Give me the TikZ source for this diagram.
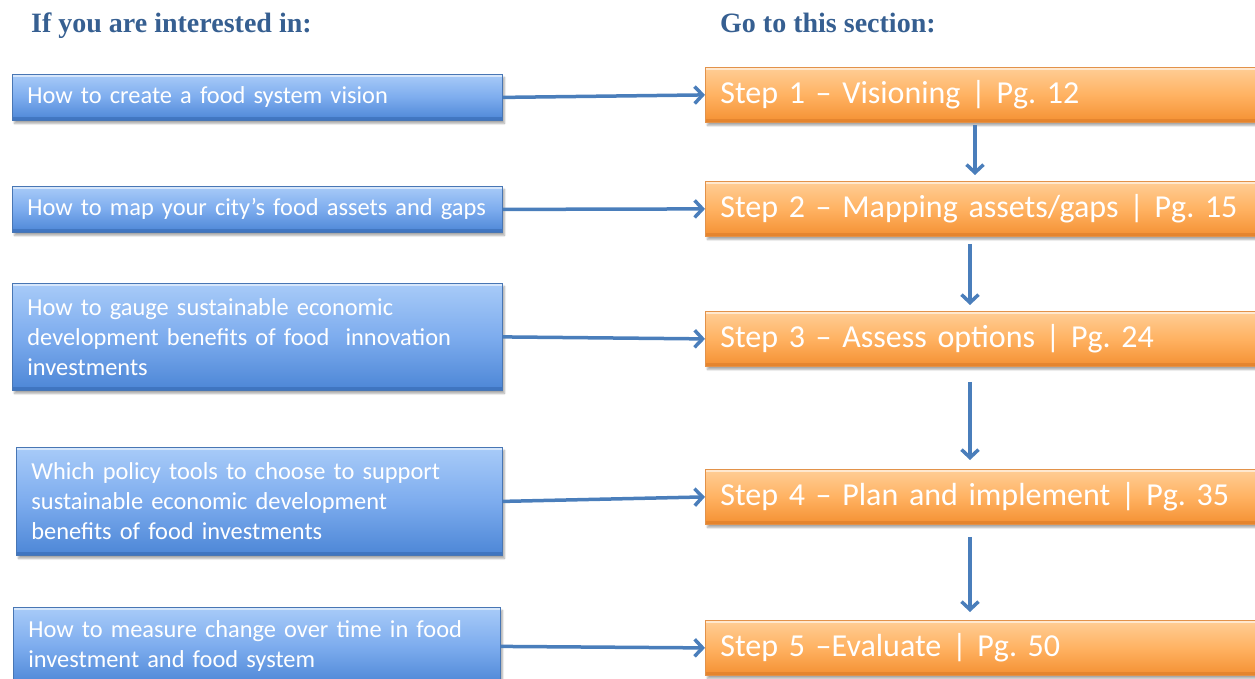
\documentclass[tikz,border=0pt]{standalone}
\usepackage{fontspec}
\setmainfont{Carlito}
\newfontfamily\hdrfont{Liberation Serif}
\usetikzlibrary{arrows.meta,shadows.blur}
\definecolor{hdr}{RGB}{54,95,145}
\definecolor{bluetop}{RGB}{168,203,248}
\definecolor{bluemid}{RGB}{125,172,238}
\definecolor{bluebot}{RGB}{76,134,214}
\definecolor{blueedge}{RGB}{72,118,180}
\definecolor{bluedark}{RGB}{50,100,170}
\definecolor{orgtop}{RGB}{255,206,150}
\definecolor{orgmid}{RGB}{255,178,98}
\definecolor{orgbot}{RGB}{244,144,50}
\definecolor{orgedge}{RGB}{226,146,74}
\definecolor{orgdark}{RGB}{214,120,40}
\definecolor{arrowblue}{RGB}{74,126,187}
\frenchspacing
\begin{document}
\begin{tikzpicture}[x=1pt,y=-1pt,
  hdrtext/.style={font=\hdrfont\bfseries\fontsize{28}{32}\selectfont, text=hdr, anchor=base west, inner sep=0pt},
  bevel/.style={path picture={
      \draw[white, opacity=0.55, line width=3pt]
        ([yshift=-1.5pt]path picture bounding box.north west) -- ([yshift=-1.5pt]path picture bounding box.north east);
      \draw[#1, opacity=0.5, line width=3pt]
        ([yshift=1.5pt]path picture bounding box.south west) -- ([yshift=1.5pt]path picture bounding box.south east);}},
  basebox/.style={anchor=north west, align=left, inner xsep=15pt, inner ysep=0pt, text=white,
    blur shadow={shadow xshift=2pt, shadow yshift=-3pt, shadow blur steps=6, shadow opacity=35}},
  bluebox/.style={basebox, draw=blueedge, line width=0.8pt, top color=bluetop, bottom color=bluebot, middle color=bluemid,
    bevel=bluedark, font=\frenchspacing\fontsize{24.4}{30}\selectfont},
  orgbox/.style={basebox, draw=orgedge, line width=0.8pt, top color=orgtop, bottom color=orgbot, middle color=orgmid,
    bevel=orgdark, font=\frenchspacing\fontsize{32}{36}\selectfont, minimum height=55pt, text width=530pt},
  link/.style={draw=arrowblue, line width=3.5pt, -{Straight Barb[length=8pt,width=17pt]}}
  ]
\useasboundingbox (0,0) rectangle (1255,678);

\node[hdrtext] (h1) at (31,32) {If you are interested in:};
\node[hdrtext] (h2) at (720,32) {Go to this section:};

\node[bluebox, text width=460pt, minimum height=46pt] (b1) at (12,74) {How to create a food system vision};
\node[bluebox, text width=460pt, minimum height=46pt] (b2) at (12,186) {How to map your city’s food assets and gaps};
\node[bluebox, text width=460pt, minimum height=107pt] (b3) at (12,283) {How to gauge sustainable economic\\development benefits of food~ innovation\\investments};
\node[bluebox, text width=456pt, minimum height=108pt] (b4) at (16,447) {Which policy tools to choose to support\\sustainable economic development\\benefits of food investments};
\node[bluebox, text width=457pt, minimum height=78pt] (b5) at (13,607) {How to measure change over time in food\\investment and food system};

\node[orgbox] (r1) at (705,67) {Step 1 – Visioning | Pg. 12};
\node[orgbox] (r2) at (705,181) {Step 2 – Mapping assets/gaps | Pg. 15};
\node[orgbox] (r3) at (705,311) {Step 3 – Assess options | Pg. 24};
\node[orgbox] (r4) at (705,469) {Step 4 – Plan and implement | Pg. 35};
\node[orgbox] (r5) at (705,620) {Step 5 –Evaluate | Pg. 50};

\draw[link] (b1.east) -- (r1.west);
\draw[link] (b2.east) -- (r2.west);
\draw[link] (b3.east) -- (r3.west);
\draw[link] (b4.east) -- (r4.west);
\draw[link] (b5.east) -- (r5.west);

\draw[link, shorten <=2pt, shorten >=6pt] ([xshift=270pt]r1.south west) -- ([xshift=270pt]r2.north west);
\draw[link, shorten <=7pt, shorten >=6pt] ([xshift=265pt]r2.south west) -- ([xshift=265pt]r3.north west);
\draw[link, shorten <=15pt, shorten >=9pt] ([xshift=265pt]r3.south west) -- ([xshift=265pt]r4.north west);
\draw[link, shorten <=12pt, shorten >=8pt] ([xshift=265pt]r4.south west) -- ([xshift=265pt]r5.north west);
\end{tikzpicture}
\end{document}
